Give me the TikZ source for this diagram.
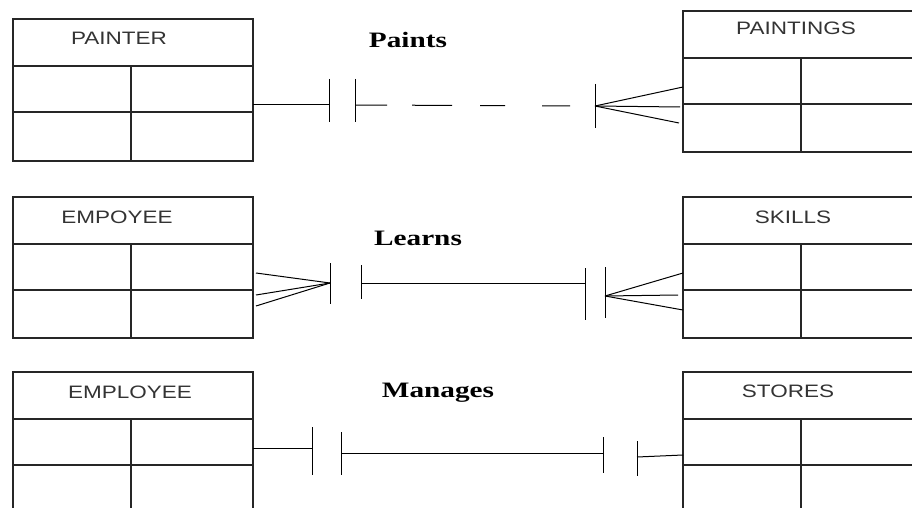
\documentclass[tikz,border=0pt]{standalone}
\usepackage{fontspec}
\newfontfamily\titlefont{Liberation Sans}[FakeStretch=1.25]
\newfontfamily\relfont{Liberation Serif}[FakeStretch=1.33]
\begin{document}
\begin{tikzpicture}[x=1pt,y=-1pt,
  ent/.style={draw=black!85,line width=1.4pt,minimum width=240pt,minimum height=142pt,inner sep=0pt,outer sep=0pt},
  title/.style={anchor=base,font=\titlefont\fontsize{18}{20}\selectfont,text=black!80},
  reln/.style={anchor=base,font=\relfont\bfseries\fontsize{22}{24}\selectfont},
  rel/.style={line width=1pt}]
  \clip (0,0) rectangle (912,508);
  % entidades
  \node[ent] (painter) at (133,90) {};
  \node[ent,minimum height=141pt] (paintings) at (803,81.5) {};
  \node[ent,minimum height=141pt] (empoyee) at (133,267.5) {};
  \node[ent,minimum height=141pt] (skills) at (803,267.5) {};
  \node[ent] (employee) at (133,443) {};
  \node[ent] (stores) at (803,443) {};
  \foreach \e in {painter,paintings,empoyee,skills,employee,stores} {
    \draw[draw=black!85,line width=1.4pt] ([yshift=-47pt]\e.north west) -- ([yshift=-47pt]\e.north east);
    \draw[draw=black!85,line width=1.4pt] ([yshift=-93pt]\e.north west) -- ([yshift=-93pt]\e.north east);
    \draw[draw=black!85,line width=1.4pt] ([yshift=-47pt,xshift=-2pt]\e.north) -- ([xshift=-2pt]\e.south);
  }
  \node[title] (painterT) at (119,45) {PAINTER};
  \node[title] (paintingsT) at (796,35) {PAINTINGS};
  \node[title] (empoyeeT) at (117,223) {EMPOYEE};
  \node[title] (skillsT) at (793,223) {SKILLS};
  \node[title] (employeeT) at (130,398) {EMPLOYEE};
  \node[title] (storesT) at (788,397) {STORES};
  % relaciones
  \node[reln] (paints) at (408,48) {Paints};
  \node[reln] (learns) at (418,245) {Learns};
  \node[reln] (manages) at (438,397) {Manages};
  % barras
  \foreach \x/\t/\b in {329/79/122, 355/79/122, 595/84/128,
      330/263/304, 361/265/299, 585/268/320, 605/267/318,
      312/427/475, 341/432/475, 603/437/473, 637/441/476}
    \draw[rel] (\x,\t) -- (\x,\b);
  % paints
  \coordinate (a1) at (329,105);
  \coordinate (a2) at (355,105);
  \coordinate (a3) at (595,106);
  \draw[rel] ([yshift=-15pt]painter.east) -- (a1);
  \draw[rel,dash pattern=on 32pt off 25pt on 40pt off 28pt on 25pt off 37pt on 28pt off 25pt] (a2) -- (a3);
  \draw[rel] (a3) -- ([yshift=-5.5pt]paintings.west);
  \draw[rel] (a3) -- ([xshift=-3pt,yshift=-25.5pt]paintings.west);
  \draw[rel] (a3) -- ([xshift=-4pt,yshift=-41.5pt]paintings.west);
  % learns
  \coordinate (b1) at (330,283);
  \coordinate (b2) at (361,283);
  \coordinate (b3) at (585,283);
  \coordinate (b4) at (605,296);
  \draw[rel] ([xshift=3pt,yshift=-5.5pt]empoyee.east) -- (b1);
  \draw[rel] ([xshift=3pt,yshift=-27.5pt]empoyee.east) -- (b1);
  \draw[rel] ([xshift=3pt,yshift=-38.5pt]empoyee.east) -- (b1);
  \draw[rel] (b2) -- (b3);
  \draw[rel] (b4) -- ([yshift=-5.5pt]skills.west);
  \draw[rel] (b4) -- ([xshift=-5pt,yshift=-27.5pt]skills.west);
  \draw[rel] (b4) -- ([yshift=-42.5pt]skills.west);
  % manages
  \coordinate (c1) at (312,448);
  \coordinate (c2) at (341,453);
  \coordinate (c3) at (603,453);
  \coordinate (c4) at (637,457);
  \draw[rel] ([yshift=-5pt]employee.east) -- (c1);
  \draw[rel] (c2) -- (c3);
  \draw[rel] (c4) -- ([yshift=-12pt]stores.west);
\end{tikzpicture}
\end{document}
